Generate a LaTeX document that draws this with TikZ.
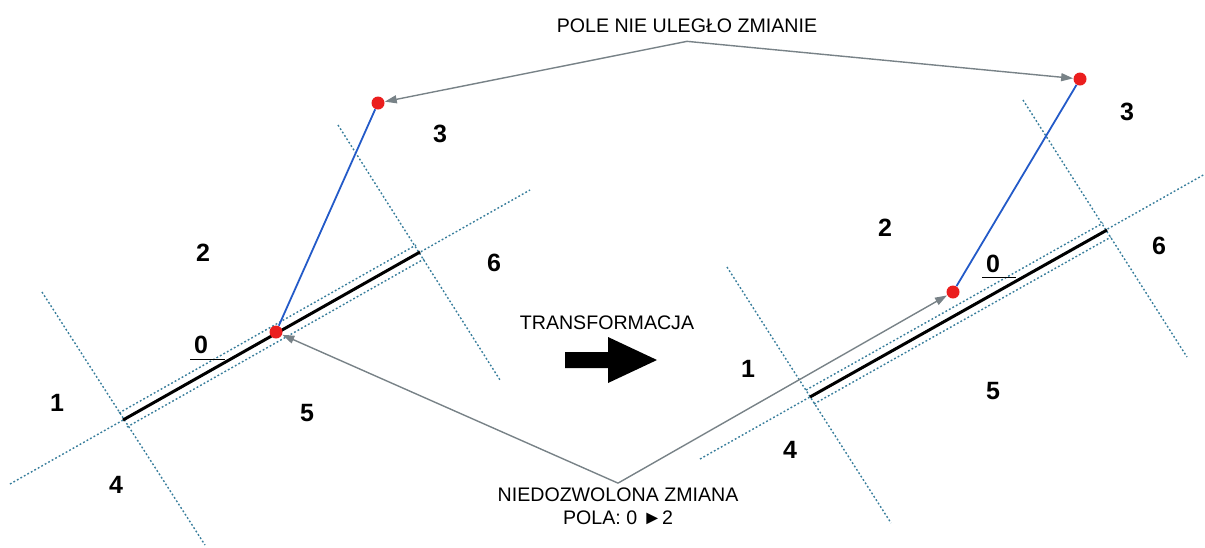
\documentclass[tikz,border=0pt]{standalone}
\usepackage{fontspec}
\setmainfont{Liberation Sans}
\usepackage{tikz}
\usetikzlibrary{arrows.meta}
\definecolor{gridline}{RGB}{55,125,155}
\definecolor{linkgray}{RGB}{120,130,135}
\definecolor{poleblue}{RGB}{35,90,200}
\definecolor{ptred}{RGB}{235,30,30}

\begin{document}
\begin{tikzpicture}[x=0.5pt,y=-0.5pt,
  axis/.style={gridline,dash pattern=on 0.9pt off 1.1pt,line width=0.7pt},
  seg/.style={line width=1.5pt},
  link/.style={linkgray,line width=0.7pt,-{Triangle[length=6pt,width=4pt]}},
  dot/.style={circle,fill=ptred,inner sep=0pt,minimum size=6.5pt},
  num/.style={font=\fontsize{12.5}{14}\selectfont\bfseries},
  lbl/.style={font=\fontsize{9.8}{11.5}\selectfont,align=center}]
\useasboundingbox (0,0) rectangle (1205,547);

% left: before
\draw[axis] (10,484) -- (530,190);
\draw[axis] (119,413) -- (416,245);
\draw[axis] (127,427) -- (424,259);
\draw[axis] (42,292) -- (205,545);
\draw[axis] (338,125) -- (500,380);
\draw[seg] (123,420) -- (420,252);
\node[dot] (lbot) at (276,332) {};
\node[dot] (ltop) at (378,103) {};
\draw[poleblue,line width=0.9pt] (lbot) -- (ltop);
\node[num] (l0) at (201,345) {0};
\draw[line width=0.5pt] (190,359) -- (225,359);
\node[num] (l1) at (57,403) {1};
\node[num] (l2) at (203,253) {2};
\node[num] (l3) at (440,134) {3};
\node[num] (l4) at (116,485) {4};
\node[num] (l5) at (307,413) {5};
\node[num] (l6) at (494,263) {6};

% right: after
\draw[axis] (700,459) -- (1205,174);
\draw[axis] (806,390) -- (1103,223);
\draw[axis] (814,404) -- (1111,237);
\draw[axis] (727,267) -- (891,523);
\draw[axis] (1023,100) -- (1187,357);
\draw[seg] (810,397) -- (1107,230);
\node[dot] (rbot) at (953,292) {};
\node[dot] (rtop) at (1080,79) {};
\draw[poleblue,line width=0.9pt] (rbot) -- (rtop);
\node[num] (r0) at (993,264) {0};
\draw[line width=0.5pt] (982,277) -- (1016,277);
\node[num] (r1) at (748,369) {1};
\node[num] (r2) at (885,228) {2};
\node[num] (r3) at (1127,112) {3};
\node[num] (r4) at (790,450) {4};
\node[num] (r5) at (993,391) {5};
\node[num] (r6) at (1159,246) {6};

% middle
\node[lbl] (trans) at (607,323) {TRANSFORMACJA};
\fill (565,352) -- (608,352) -- (608,337) -- (657,360) -- (608,383) -- (608,368) -- (565,368) -- cycle;
\node[lbl,inner sep=4pt] (kept) at (687,26) {POLE NIE ULEGŁO ZMIANIE};
\draw[link] (kept.south) -- (ltop);
\draw[link] (kept.south) -- (rtop);
\node[lbl,inner sep=2pt] (bad) at (618,506) {NIEDOZWOLONA ZMIANA\\POLA: 0 ►2};
\draw[link] (bad.north) -- (lbot);
\draw[link] (bad.north) -- (rbot);
\end{tikzpicture}
\end{document}
